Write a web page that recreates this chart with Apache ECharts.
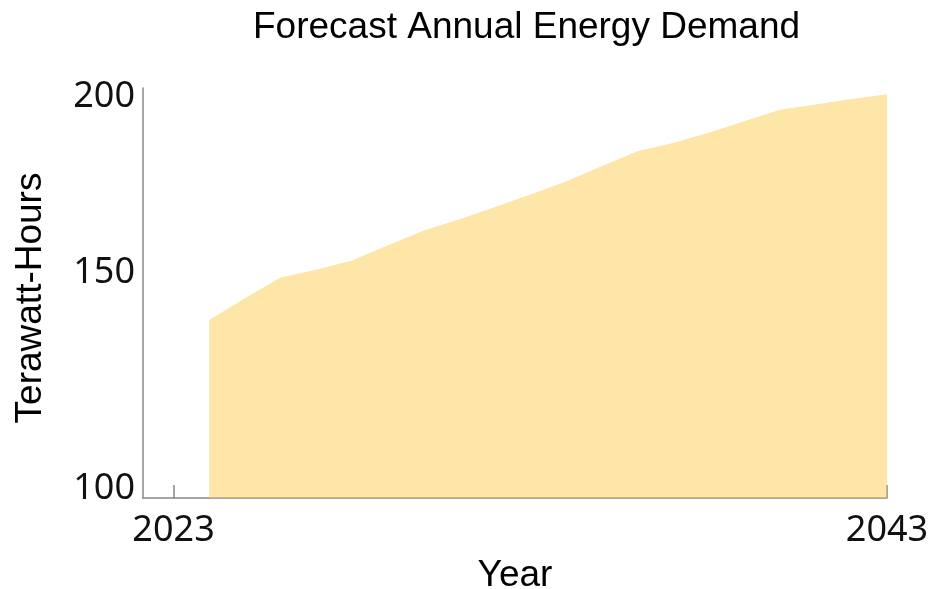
<!DOCTYPE html>
<html>
<head>
<meta charset="utf-8">
<script src="https://cdn.jsdelivr.net/npm/echarts@6/dist/echarts.min.js"></script>
<style>
  html, body { margin: 0; padding: 0; background: #ffffff; }
  #chart { width: 932px; height: 589px; }
</style>
</head>
<body>
<div id="chart"></div>
<script>
// Forecast annual energy demand, terawatt-hours per year
const years = [2024, 2025, 2026, 2027, 2028, 2029, 2030, 2031, 2032, 2033,
               2034, 2035, 2036, 2037, 2038, 2039, 2040, 2041, 2042, 2043];
const demandTWh = [143.4, 148.7, 153.8, 155.7, 157.9, 161.6, 165.2, 167.9, 170.9, 174.0,
                   177.2, 180.9, 184.6, 186.6, 189.1, 191.9, 194.7, 196.0, 197.3, 198.5];
const xTickYears = [2023, 2043];
const yTickValues = [100, 150, 200];

const chart = echarts.init(document.getElementById('chart'), null, { renderer: 'canvas' });

const axisGrey = '#888888';
const labelFont = 'Noto Sans';
const nameFont = 'Liberation Sans';

chart.setOption({
  backgroundColor: '#ffffff',
  animation: false,
  title: {
    text: 'Forecast Annual Energy Demand',
    left: 248,
    top: 4,
    textStyle: { fontFamily: nameFont, fontSize: 37, fontWeight: 'normal', color: '#000' }
  },
  grid: { left: 143, right: 45, top: 88, bottom: 91, containLabel: false, outerBoundsMode: 'none' },
  xAxis: {
    type: 'value',
    min: 2022.144,
    max: 2043,
    name: 'Year',
    nameLocation: 'middle',
    nameGap: 59,
    nameTextStyle: { fontFamily: nameFont, fontSize: 37, color: '#000' },
    axisLine: { show: true, lineStyle: { color: axisGrey, width: 1.5 } },
    axisTick: { show: true, inside: true, length: 13, customValues: xTickYears,
                lineStyle: { color: axisGrey, width: 1.5 } },
    axisLabel: { customValues: xTickYears, margin: 15, fontFamily: labelFont, fontSize: 36,
                 color: '#111', formatter: v => String(v) },
    splitLine: { show: false }
  },
  yAxis: {
    type: 'value',
    min: 100,
    max: 200,
    name: 'Terawatt-Hours',
    nameLocation: 'middle',
    nameGap: 94,
    nameTextStyle: { fontFamily: nameFont, fontSize: 37, color: '#000', padding: [0, 10, 0, 0] },
    axisLine: { show: true, lineStyle: { color: axisGrey, width: 1.5 } },
    axisTick: { show: false },
    axisLabel: {
      customValues: yTickValues,
      margin: 8,
      fontFamily: labelFont,
      fontSize: 36,
      color: '#111',
      formatter: v => (v === 200 ? '{top|' + v + '}' : v === 150 ? '{mid|' + v + '}' : '{low|' + v + '}'),
      rich: {
        top: { fontFamily: labelFont, fontSize: 36, color: '#111', padding: [18, 0, 0, 0] },
        mid: { fontFamily: labelFont, fontSize: 36, color: '#111', padding: [0, 0, 40, 0] },
        low: { fontFamily: labelFont, fontSize: 36, color: '#111', padding: [0, 0, 18, 0] }
      }
    },
    splitLine: { show: false }
  },
  series: [{
    type: 'line',
    data: years.map((y, i) => [y, demandTWh[i]]),
    showSymbol: false,
    lineStyle: { width: 0 },
    areaStyle: { color: 'rgba(251, 206, 81, 0.5)', opacity: 1, origin: 'start' },
    z: 3
  }]
});
</script>
</body>
</html>
